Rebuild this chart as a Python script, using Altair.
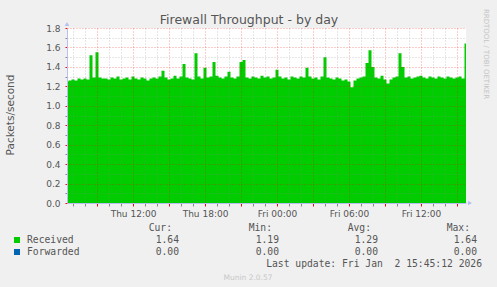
import altair as alt
import pandas as pd

# ---------------- data ----------------
received = [
    1.25, 1.26, 1.27, 1.26, 1.28, 1.27, 1.28, 1.27, 1.52, 1.29,
    1.55, 1.29, 1.28, 1.28, 1.27, 1.29, 1.28, 1.30, 1.27, 1.28,
    1.29, 1.27, 1.30, 1.28, 1.27, 1.29, 1.28, 1.26, 1.28, 1.29,
    1.28, 1.30, 1.36, 1.29, 1.27, 1.28, 1.31, 1.28, 1.30, 1.43,
    1.29, 1.28, 1.27, 1.54, 1.30, 1.28, 1.39, 1.29, 1.30, 1.45,
    1.31, 1.29, 1.28, 1.30, 1.35, 1.29, 1.28, 1.30, 1.45, 1.47,
    1.29, 1.28, 1.30, 1.29, 1.28, 1.31, 1.29, 1.30, 1.28, 1.29,
    1.37, 1.30, 1.28, 1.29, 1.27, 1.30, 1.29, 1.28, 1.30, 1.29,
    1.39, 1.30, 1.28, 1.29, 1.27, 1.30, 1.50, 1.29, 1.28, 1.27,
    1.29, 1.28, 1.26, 1.27, 1.25, 1.19, 1.26, 1.28, 1.29, 1.30,
    1.44, 1.57, 1.40, 1.29, 1.28, 1.31, 1.27, 1.23, 1.27, 1.29,
    1.30, 1.54, 1.40, 1.29, 1.30, 1.28, 1.29, 1.30, 1.31, 1.29,
    1.28, 1.30, 1.29, 1.28, 1.30, 1.29, 1.28, 1.30, 1.29, 1.28,
    1.29, 1.30, 1.28, 1.64,
]
start_hour = 6.5          # Thu 06:30, hours counted from Thu 00:00
step_hours = 0.25         # 15-minute samples
hours = [start_hour + step_hours * i for i in range(len(received))]
end_hour = 39.75          # Fri 15:45

x_label_map = {12: "Thu 12:00", 18: "Thu 18:00", 24: "Fri 00:00",
               30: "Fri 06:00", 36: "Fri 12:00"}
x_tick_values = list(range(7, 40))
y_tick_values = [round(k * 0.1, 1) for k in range(19)]

series_names = ["Received", "Forwarded"]
series_colors = ["#00CC00", "#0066B3"]
stat_headers = ["Cur:", "Min:", "Avg:", "Max:"]
stat_values = [
    ["1.64", "1.19", "1.29", "1.64"],
    ["0.00", "0.00", "0.00", "0.00"],
]
title_text = "Firewall Throughput - by day"
y_title = "Packets/second"
last_update = "Last update: Fri Jan \u00a02 15:45:12 2026"
munin_version = "Munin 2.0.57"
rrd_credit = "RRDTOOL / TOBI OETIKER"

# ---------------- layout ----------------
PL, PT, PW, PH = 67, 28, 399, 175
FONT = "DejaVu Sans"
MONO = "DejaVu Sans Mono"
TXT = "#555555"

df = pd.DataFrame({"h": hours, "v": received})
one = alt.Data(values=[{"a": 1}])

label_expr = " : ".join(
    f"datum.value == {k} ? '{v}'" for k, v in x_label_map.items()
) + " : ''"

grid_col_x = {"condition": {"test": "datum.value % 3 == 0", "value": "#FF0000"}, "value": "#888888"}
grid_col_y = {"condition": {"test": "round(datum.value * 10) % 2 == 0", "value": "#FF0000"}, "value": "#888888"}

area = alt.Chart(df).mark_area(color="#00CC00", interpolate="step").encode(
    x=alt.X("h:Q", scale=alt.Scale(domain=[start_hour, end_hour], nice=False, zero=False),
            axis=alt.Axis(values=x_tick_values, labelExpr=label_expr, title=None,
                          gridColor=grid_col_x, tickColor=grid_col_x, gridOpacity=0.4,
                          gridDash=[1, 2], tickSize=3, labelPadding=3, labelOverlap=False,
                          labelBound=False, labelFlush=False, labelFont=FONT, labelFontSize=9,
                          labelColor=TXT, domainColor="#B8C0F0", zindex=1)),
    y=alt.Y("v:Q", scale=alt.Scale(domain=[0, 1.8], nice=False),
            axis=alt.Axis(values=y_tick_values, title=None,
                          labelExpr="round(datum.value * 10) % 2 == 0 ? format(datum.value, '.1f') : ''",
                          gridColor=grid_col_y, tickColor=grid_col_y, gridOpacity=0.4,
                          gridDash=[1, 2], tickSize=2, labelPadding=5, labelOverlap=False,
                          labelFont=FONT, labelFontSize=9, labelColor=TXT,
                          domainColor="#B8C0F0", zindex=1)),
)


def txt(text, x, y, **kw):
    base = dict(font=FONT, fontSize=9, color=TXT, baseline="alphabetic", align="left")
    base.update(kw)
    return alt.Chart(one).mark_text(text=text, **base).encode(
        x=alt.value(x - PL), y=alt.value(y - PT))


layers = [area]
layers.append(txt(title_text, 249, 24, fontSize=12.5, align="center"))
layers.append(txt(y_title, 11, 115, fontSize=10.5, angle=270, align="center", baseline="middle"))
layers.append(txt(rrd_credit, 486, 54, fontSize=7, angle=90, align="center", baseline="middle",
                  color="#C4C4C4"))

# axis arrows
layers.append(alt.Chart(one).mark_point(shape="triangle-up", filled=True, size=22,
                                        color="#B8C0F0", opacity=1).encode(
    x=alt.value(0), y=alt.value(-4)))
layers.append(alt.Chart(one).mark_point(shape="triangle-right", filled=True, size=22,
                                        color="#B8C0F0", opacity=1).encode(
    x=alt.value(PW + 4), y=alt.value(PH)))

# legend
header_right = [172, 272, 371, 470]
value_right = [179, 279, 378, 477]
for hdr, xr in zip(stat_headers, header_right):
    layers.append(txt(hdr, xr, 231, font=MONO, fontSize=9.7, align="right"))
row_base = [243, 255]
for r, (name, col) in enumerate(zip(series_names, series_colors)):
    yb = row_base[r]
    layers.append(alt.Chart(one).mark_square(color=col, size=36, opacity=1).encode(
        x=alt.value(17 - PL), y=alt.value(yb - 3 - PT)))
    layers.append(txt(name, 27, yb, font=MONO, fontSize=9.7))
    for val, xr in zip(stat_values[r], value_right):
        layers.append(txt(val, xr, yb, font=MONO, fontSize=9.7, align="right"))
layers.append(txt(last_update, 482, 267, font=MONO, fontSize=9.7, align="right"))
layers.append(txt(munin_version, 248, 280, fontSize=7.5, align="center", color="#C8C8C8"))

chart = alt.layer(*layers).properties(
    width=PW, height=PH,
    autosize=alt.AutoSizeParams(type="none"),
    padding={"left": PL, "top": PT, "right": 497 - PL - PW, "bottom": 287 - PT - PH},
    background="#F0F0F0",
).configure_view(stroke=None, fill="white")

chart.save("out.html", embed_options={"renderer": "svg", "actions": False})
